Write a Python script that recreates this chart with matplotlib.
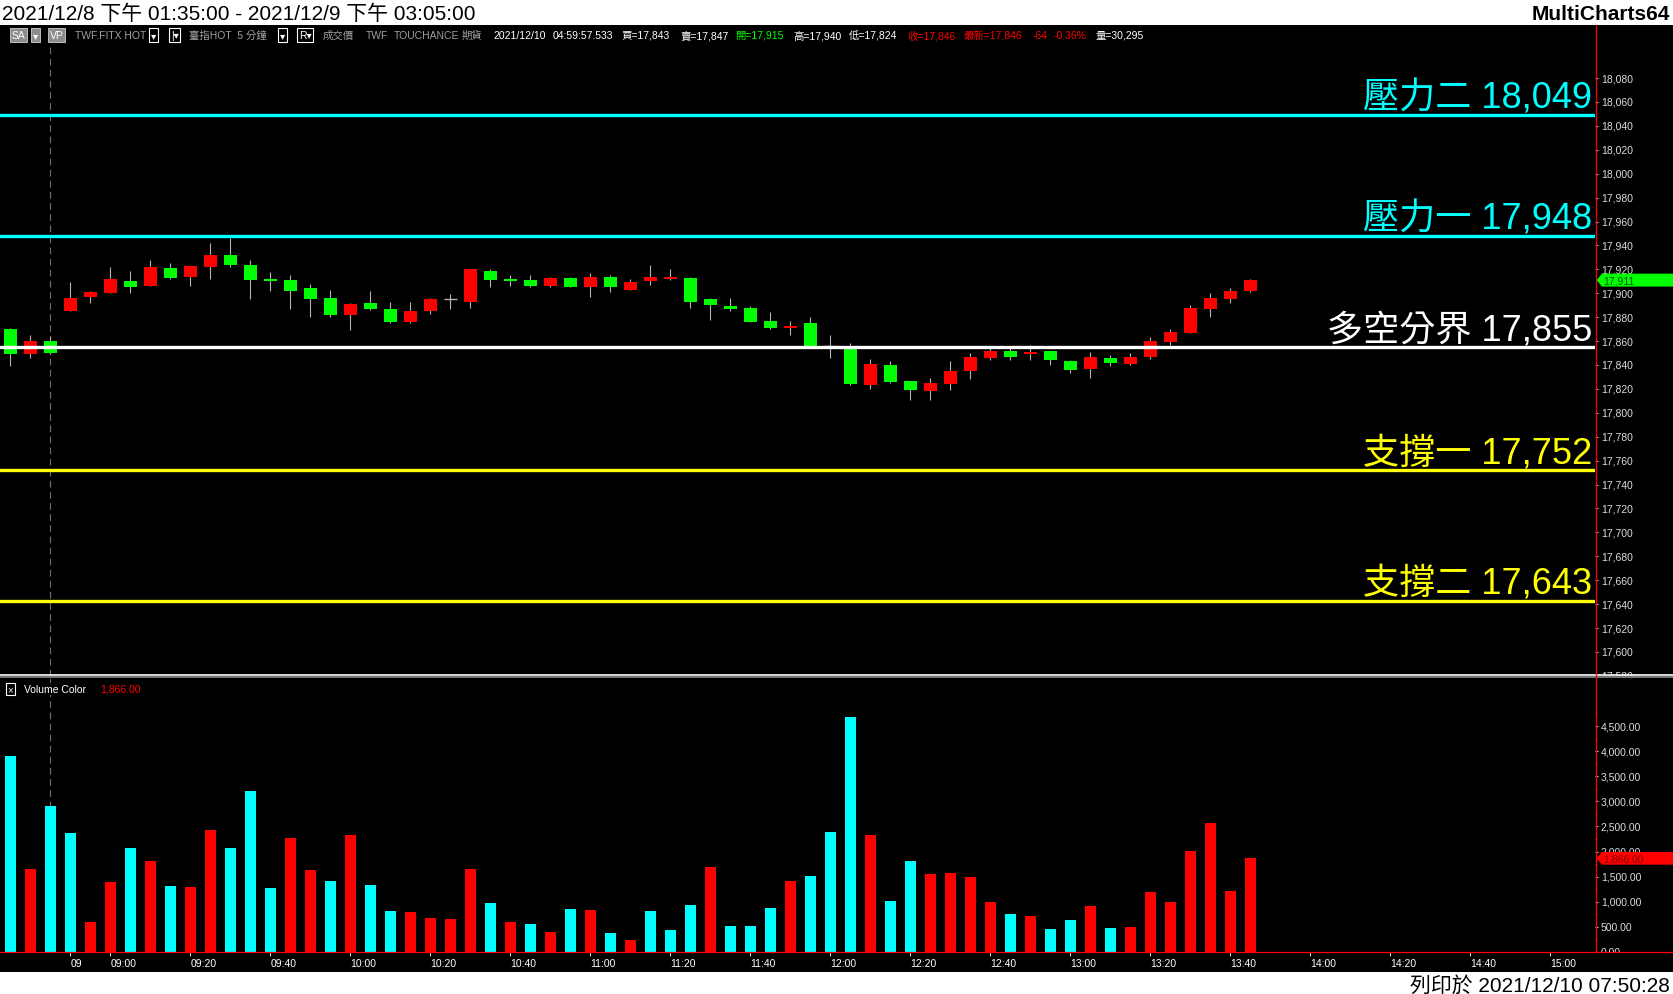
import numpy as np
import pandas as pd
import matplotlib
matplotlib.use('Agg')
import matplotlib.pyplot as plt
from matplotlib.patches import Rectangle, Polygon
from matplotlib.lines import Line2D

plt.rcParams['font.family'] = ['Liberation Sans', 'Noto Sans CJK TC', 'DejaVu Sans']

# ---------------- data ----------------
# last 3 bars of 2021/12/8, then 2021/12/9 day session, 5 min bars
prev_times = ['13:35', '13:40', '13:45']
day_times = pd.date_range('2021-12-09 08:50', '2021-12-09 13:45', freq='5min').strftime('%H:%M').tolist()
bar_times = prev_times + day_times

opens = [17870, 17849, 17860, 17885, 17897, 17900, 17910, 17906, 17921, 17914,
         17922, 17932, 17924, 17912, 17911, 17904, 17896, 17882, 17892, 17887,
         17876, 17885, 17895, 17893, 17919, 17912, 17911, 17906, 17913, 17905,
         17914, 17903, 17910, 17912, 17913, 17895, 17889, 17888, 17877, 17871,
         17875, 17856, 17854, 17823, 17840, 17827, 17818, 17824, 17835, 17846,
         17852, 17849, 17852, 17843, 17837, 17846, 17841, 17847, 17859, 17867,
         17887, 17895, 17902]
highs = [17871, 17865, 17864, 17909, 17902, 17922, 17919, 17928, 17925, 17923,
         17942, 17946, 17928, 17918, 17915, 17908, 17903, 17892, 17902, 17893,
         17893, 17896, 17899, 17920, 17920, 17915, 17915, 17914, 17914, 17917,
         17915, 17912, 17924, 17920, 17914, 17896, 17896, 17889, 17884, 17877,
         17880, 17865, 17858, 17845, 17843, 17827, 17829, 17843, 17850, 17854,
         17854, 17857, 17852, 17844, 17851, 17848, 17850, 17863, 17870, 17890,
         17900, 17904, 17912]
lows = [17839, 17846, 17849, 17885, 17892, 17900, 17900, 17906, 17912, 17906,
        17912, 17922, 17895, 17902, 17887, 17880, 17880, 17869, 17886, 17875,
        17875, 17883, 17887, 17888, 17905, 17906, 17905, 17905, 17905, 17897,
        17901, 17903, 17907, 17911, 17888, 17878, 17885, 17876, 17870, 17865,
        17856, 17846, 17823, 17820, 17825, 17811, 17811, 17819, 17828, 17844,
        17844, 17844, 17840, 17833, 17829, 17839, 17840, 17845, 17857, 17867,
        17880, 17892, 17901]
closes = [17849, 17860, 17850, 17896, 17901, 17912, 17905, 17922, 17913, 17923,
          17932, 17924, 17911, 17910, 17902, 17895, 17882, 17891, 17887, 17876,
          17885, 17895, 17895, 17920, 17911, 17910, 17906, 17913, 17905, 17914,
          17905, 17909, 17914, 17914, 17893, 17890, 17887, 17876, 17871, 17873,
          17856, 17856, 17824, 17841, 17826, 17819, 17825, 17835, 17847, 17852,
          17847, 17851, 17844, 17836, 17847, 17842, 17847, 17860, 17868, 17888,
          17896, 17902, 17911]

volumes = [3900, 1660, 2900, 2370, 600, 1385, 2075, 1820, 1305, 1290,
           2430, 2075, 3200, 1265, 2270, 1640, 1405, 2330, 1325, 815,
           795, 675, 655, 1660, 970, 600, 560, 400, 855, 835,
           380, 245, 815, 440, 930, 1700, 520, 520, 875, 1405,
           1505, 2390, 4675, 2330, 1010, 1820, 1545, 1565, 1485, 990,
           755, 715, 460, 635, 912, 476, 496, 1190, 991, 2003,
           2578, 1209, 1866]
vol_up = [0, 1, 0, 0, 1, 1, 0, 1, 0, 1,
          1, 0, 0, 0, 1, 1, 0, 1, 0, 0,
          1, 1, 1, 1, 0, 1, 0, 1, 0, 1,
          0, 1, 0, 0, 0, 1, 0, 0, 0, 1,
          0, 0, 0, 1, 0, 0, 1, 1, 1, 1,
          0, 1, 0, 0, 1, 0, 1, 1, 1, 1,
          1, 1, 1]

level_names = ['壓力二', '壓力一', '多空分界', '支撐一', '支撐二']
level_values = [18049, 17948, 17855, 17752, 17643]

tick_times = ['08:50', '09:00', '09:20', '09:40', '10:00', '10:20', '10:40', '11:00',
              '11:20', '11:40', '12:00', '12:20', '12:40', '13:00', '13:20', '13:40',
              '14:00', '14:20', '14:40', '15:00']
tick_labels = ['09'] + tick_times[1:]

price_ticks = list(range(17580, 18081, 20))
vol_ticks = list(range(0, 4501, 500))

title = '2021/12/8 下午 01:35:00 - 2021/12/9 下午 03:05:00'
printed = '列印於 2021/12/10 07:50:28'


def slot(t):
    h, m = map(int, t.split(':'))
    return len(prev_times) + (h * 60 + m - (8 * 60 + 50)) / 5


# ---------------- figure ----------------
W, H = 1673, 995
fig = plt.figure(figsize=(W / 100, H / 100), dpi=100, facecolor='white')


def fx(p):
    return p / W


def fy(p):
    return 1 - p / H


Y_TOP, Y_SEP, Y_AX, Y_BOT, X_AX = 25.6, 676.5, 953, 973, 1595

fig.patches.append(Rectangle((0, fy(Y_BOT)), 1, (Y_BOT - Y_TOP) / H, transform=fig.transFigure,
                             fc='black', ec='none', zorder=-5))

ax = fig.add_axes([0, fy(Y_SEP), fx(X_AX), (Y_SEP - Y_TOP) / H])
axv = fig.add_axes([0, fy(Y_AX), fx(X_AX), (Y_AX - Y_SEP) / H])
axl = fig.add_axes([fx(X_AX), fy(Y_SEP), 1 - fx(X_AX), (Y_SEP - Y_TOP) / H])
axvl = fig.add_axes([fx(X_AX), fy(Y_AX), 1 - fx(X_AX), (Y_AX - Y_SEP) / H])
for a in (ax, axv, axl, axvl):
    a.set_facecolor('black')
    for s in a.spines.values():
        s.set_visible(False)
    a.tick_params(left=False, bottom=False, labelleft=False, labelbottom=False)

RED, GREEN, CYAN, YELLOW = '#ff0000', '#00ff00', '#00ffff', '#ffff00'
level_colors = [CYAN, CYAN, 'white', YELLOW, YELLOW]

ax.set_xlim(-0.52, 79.23)
axv.set_xlim(-0.52, 79.23)
ax.set_ylim(17580.3, 18124.7)
axv.set_ylim(0, 5506)
axl.set_ylim(ax.get_ylim())
axl.set_xlim(0, 1)
axvl.set_ylim(axv.get_ylim())
axvl.set_xlim(0, 1)

# candles
x = np.arange(len(closes))
o, h, l, c = (np.array(v, dtype=float) for v in (opens, highs, lows, closes))
ax.vlines(x, l, h, color='#b4b4b4', lw=0.8, zorder=2)
up = c > o
dn = c < o
flat = c == o
body_lo = np.minimum(o, c)
body_h = np.maximum(np.abs(c - o), 1.3)
ax.bar(x[up], body_h[up], bottom=body_lo[up], width=0.65, color=RED, linewidth=0, zorder=3)
ax.bar(x[dn], body_h[dn], bottom=body_lo[dn], width=0.65, color=GREEN, linewidth=0, zorder=3)
ax.hlines(c[flat], x[flat] - 0.33, x[flat] + 0.33, color='#b4b4b4', lw=1.0, zorder=3)

# day separator
sep = len(prev_times) - 1
ax.axvline(sep, ymax=(Y_SEP - 48) / (Y_SEP - Y_TOP), color='#6e6e6e', lw=0.8, dashes=(6, 4), zorder=1)
axv.axvline(sep, color='#6e6e6e', lw=0.8, dashes=(6, 4), zorder=1)

# support / resistance levels
for name, val, col in zip(level_names, level_values, level_colors):
    ax.axhline(val, color=col, lw=2.4, zorder=4)
    ax.annotate(f'{name} {val:,}', xy=(0.998, val), xycoords=('axes fraction', 'data'),
                xytext=(0, 5.5), textcoords='offset points', ha='right', va='baseline',
                color=col, fontsize=26, zorder=5)

# volume
axv.bar(x, volumes, width=0.55, color=np.where(np.array(vol_up) == 1, RED, CYAN), linewidth=0, zorder=2)
axv.set_xticks([slot(t) for t in tick_times], tick_labels, ha='left', color='white', fontsize=7.5)
axv.tick_params(axis='x', bottom=True, labelbottom=True, length=3, width=0.8, color='#c8c8c8',
                pad=1.5, direction='out')

# right price scale
for v in price_ticks:
    axl.text(0.075, v, f'{v:,}', color='#dcdcdc', fontsize=7.5, va='center', ha='left', clip_on=True)
axl.hlines(price_ticks, 0, 0.04, color='#c8c8c8', lw=0.8)
last = closes[-1]
hh = 5.4
axl.add_patch(Polygon([[0.02, last], [0.09, last + hh], [1, last + hh], [1, last - hh], [0.09, last - hh]],
                      closed=True, fc=GREEN, ec='none', zorder=5))
axl.text(0.1, last, f'{last:,}', color='#005000', fontsize=7.5, va='center', zorder=6)

# right volume scale
for v in vol_ticks:
    axvl.text(0.075, v, f'{v:,.2f}', color='#dcdcdc', fontsize=7.5, va='center', ha='left', clip_on=True)
axvl.hlines(vol_ticks, 0, 0.04, color='#c8c8c8', lw=0.8)
axvl.hlines([v + 250 for v in vol_ticks], 0, 0.03, color=RED, lw=0.8)
lastv = volumes[-1]
hv = 127
axvl.add_patch(Polygon([[0.02, lastv], [0.09, lastv + hv], [1, lastv + hv], [1, lastv - hv], [0.09, lastv - hv]],
                       closed=True, fc=RED, ec='none', zorder=5))
axvl.text(0.1, lastv, f'{lastv:,.2f}', color='#7a0000', fontsize=7.5, va='center', zorder=6)

# frame lines
fig.lines.append(Line2D([0, 1], [fy(675.8)] * 2, transform=fig.transFigure, color='white', lw=1.2))
fig.lines.append(Line2D([0, 1], [fy(677.8)] * 2, transform=fig.transFigure, color='#8c8c8c', lw=1.2))
fig.lines.append(Line2D([fx(X_AX + 0.5)] * 2, [fy(Y_AX), fy(Y_TOP)], transform=fig.transFigure, color=RED, lw=0.9))
fig.lines.append(Line2D([0, 1], [fy(Y_AX)] * 2, transform=fig.transFigure, color=RED, lw=0.9))

# header / footer
fig.text(fx(2), fy(20.5), title, fontsize=15, color='black', va='baseline')
fig.text(fx(1670), fy(20.5), 'MultiCharts64', fontsize=15, fontweight='bold', color='black',
         ha='right', va='baseline')
fig.text(fx(1670), fy(992), printed, fontsize=15, color='black', ha='right', va='baseline')

# toolbar row
GRAY = '#a0a0a0'
gbox = dict(boxstyle='square,pad=0.15', fc='#8c8c8c', ec='#d0d0d0', lw=0.6)
kbox = dict(boxstyle='square,pad=0.15', fc='black', ec='white', lw=0.8)
toolbar = [(12, 'SA', 'white', gbox), (33, '▾', 'white', gbox), (50, 'VP', 'white', gbox),
           (75, 'TWF.FITX HOT', GRAY, None), (151, '▾', 'white', kbox), (171, '|▾', 'white', kbox),
           (189, '臺指HOT  5 分鐘', GRAY, None), (280, '▾', 'white', kbox), (299, 'R▾', 'white', kbox),
           (323, '成交價', GRAY, None), (366, 'TWF', GRAY, None), (394, 'TOUCHANCE', GRAY, None),
           (462, '期貨', GRAY, None), (493, '2021/12/10', 'white', None), (553, '04:59:57.533', 'white', None),
           (621, '買=17,843', 'white', None), (680, '賣=17,847', 'white', None), (735, '開=17,915', GREEN, None),
           (793, '高=17,940', 'white', None), (849, '低=17,824', 'white', None), (907, '收=17,846', RED, None),
           (964, '最新=17,846', RED, None), (1033, '-64', RED, None), (1054, '-0.36%', RED, None),
           (1096, '量=30,295', 'white', None)]
for xp, s, col, box in toolbar:
    fig.text(fx(xp), fy(36), s, color=col, fontsize=7.5, va='center', ha='left', bbox=box, zorder=10)

# volume legend
fig.text(fx(10.5), fy(690), '×', color='white', fontsize=7, ha='center', va='center', zorder=10,
         bbox=dict(boxstyle='square,pad=0.15', fc='black', ec='white', lw=0.8))
fig.text(fx(24.5), fy(690), 'Volume Color', color='white', fontsize=7.5, va='center', zorder=10,
         bbox=dict(boxstyle='square,pad=0.1', fc='black', ec='none'))
fig.text(fx(100), fy(690), f'{lastv:,.2f}', color=RED, fontsize=7.5, va='center', zorder=10)

fig.savefig('out.png', dpi=100, facecolor=fig.get_facecolor())
